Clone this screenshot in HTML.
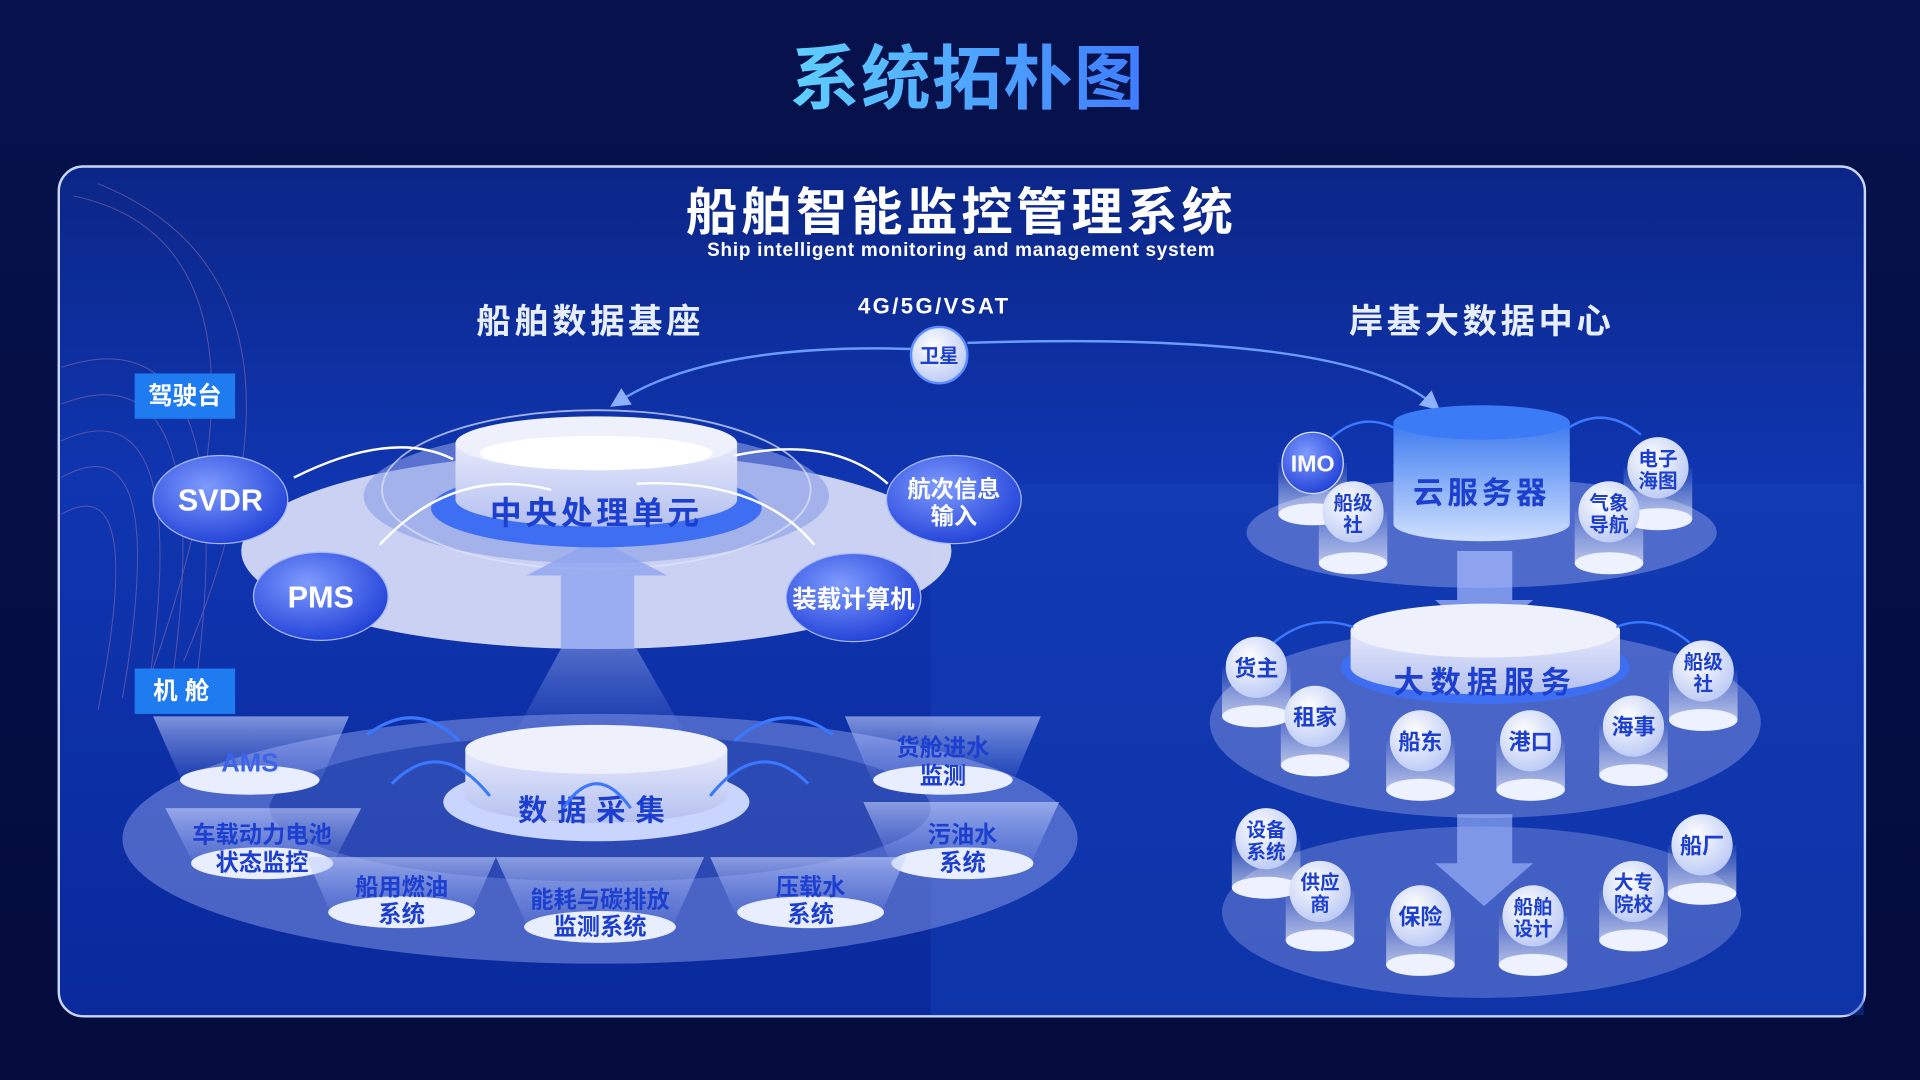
<!DOCTYPE html>
<html><head><meta charset="utf-8"><style>
html,body{margin:0;padding:0;background:#050f45;}
svg{display:block;font-family:"Liberation Sans","Noto Sans CJK SC",sans-serif;font-weight:bold;}
</style></head><body>
<svg width="1920" height="1080" viewBox="0 0 1568 882" xmlns="http://www.w3.org/2000/svg">
<defs>
<linearGradient id="bg" x1="0" y1="0" x2="0" y2="1"><stop offset="0" stop-color="#07124d"/><stop offset="1" stop-color="#040c3c"/></linearGradient>
<linearGradient id="panel" x1="0" y1="0" x2="0" y2="1"><stop offset="0" stop-color="#0b2687"/><stop offset="0.37" stop-color="#0f35b0"/><stop offset="1" stop-color="#0a2a9c"/></linearGradient>
<linearGradient id="ttl" x1="0" y1="0" x2="1" y2="0"><stop offset="0" stop-color="#5fd0ff"/><stop offset="1" stop-color="#3f7cff"/></linearGradient>
<radialGradient id="bn" cx="0.4" cy="0.35" r="0.7"><stop offset="0" stop-color="#7f9bff"/><stop offset="1" stop-color="#1e3fd6"/></radialGradient>
<radialGradient id="ball" cx="0.4" cy="0.35" r="0.7"><stop offset="0" stop-color="#ffffff"/><stop offset="1" stop-color="#b9c8f5"/></radialGradient>
<linearGradient id="pil" x1="0" y1="0" x2="0" y2="1"><stop offset="0" stop-color="#ffffff" stop-opacity="0.05"/><stop offset="1" stop-color="#ffffff" stop-opacity="0.6"/></linearGradient>
<linearGradient id="cyl" x1="0" y1="0" x2="0" y2="1"><stop offset="0" stop-color="#e6e9fb"/><stop offset="1" stop-color="#b4c0f0"/></linearGradient>
<linearGradient id="cylb" x1="0" y1="0" x2="0" y2="1"><stop offset="0" stop-color="#3d7bf0"/><stop offset="1" stop-color="#cfe0ff"/></linearGradient>
<linearGradient id="beam" x1="0" y1="1" x2="0" y2="0"><stop offset="0" stop-color="#9fb4ff" stop-opacity="0.1"/><stop offset="1" stop-color="#c8d4ff" stop-opacity="0.6"/></linearGradient>
<marker id="ar" markerWidth="8" markerHeight="8" refX="4" refY="4" orient="auto"><path d="M0,0 L8,4 L0,8 z" fill="#8fb0ff"/></marker>
</defs>
<rect width="1568" height="882" fill="url(#bg)"/>
<text x="790" y="84" font-size="57" fill="url(#ttl)" text-anchor="middle" letter-spacing="1">系统拓朴图</text>
<rect x="48" y="136" width="1475" height="694" rx="20" fill="url(#panel)" stroke="#c9d6ff" stroke-width="2"/>
<rect x="760" y="395" width="762" height="434" fill="#1440b8" opacity="0.45"/>
<g stroke="#8a6ca8" stroke-width="0.8" fill="none" opacity="0.6">
<path d="M50,300 Q200,250 160,560"/><path d="M50,330 Q180,280 140,560"/><path d="M50,360 Q160,310 120,570"/><path d="M50,390 Q140,340 100,570"/><path d="M50,420 Q120,380 80,580"/><path d="M60,160 Q250,200 120,560"/><path d="M80,150 Q280,230 150,540"/>
</g>
<text x="785" y="188" font-size="42" fill="#fff" text-anchor="middle" letter-spacing="3">船舶智能监控管理系统</text>
<text x="785" y="209" font-size="15.5" fill="#fff" text-anchor="middle" letter-spacing="0.6">Ship intelligent monitoring and management system</text>
<text x="482" y="272" font-size="28" fill="#e6eeff" text-anchor="middle" letter-spacing="3">船舶数据基座</text>
<text x="1210" y="272" font-size="28" fill="#e6eeff" text-anchor="middle" letter-spacing="3">岸基大数据中心</text>
<text x="763" y="256" font-size="18" fill="#fff" text-anchor="middle" letter-spacing="2">4G/5G/VSAT</text>
<path d="M745,285 Q580,280 505,328" stroke="#6b9bff" stroke-width="2" fill="none" marker-end="url(#ar)"/>
<path d="M790,280 Q1100,270 1170,330" stroke="#6b9bff" stroke-width="2" fill="none" marker-end="url(#ar)"/>
<circle cx="767" cy="290" r="23" fill="url(#ball)" stroke="#5b8cff" stroke-width="2"/>
<text x="767" y="296" font-size="16" fill="#1c3fd0" text-anchor="middle">卫星</text>
<rect x="110" y="305" width="82" height="37" fill="#1f7cf0"/><text x="151" y="330" font-size="20" fill="#fff" text-anchor="middle">驾驶台</text>
<rect x="110" y="546" width="82" height="37" fill="#1f7cf0"/><text x="151" y="571" font-size="20" fill="#fff" text-anchor="middle" letter-spacing="6">机舱</text>
<ellipse cx="487" cy="450" rx="290" ry="80" fill="#d6daf5" opacity="0.95"/>
<ellipse cx="487" cy="405" rx="190" ry="55" fill="#8a9de8" opacity="0.6"/>
<ellipse cx="487" cy="400" rx="175" ry="65" fill="none" stroke="#e0e6ff" stroke-width="1.5" opacity="0.7"/>
<path d="M458,530 L458,470 L430,470 L487,440 L545,470 L518,470 L518,530 Z" fill="#8ea4f0" opacity="0.8"/>
<ellipse cx="487" cy="415" rx="135" ry="32" fill="#3e6ff2"/>
<path d="M372,362 L372,408 A115,22 0 0 0 602,408 L602,362 Z" fill="url(#cyl)"/>
<ellipse cx="487" cy="362" rx="115" ry="22" fill="#eef0fc"/>
<ellipse cx="487" cy="370" rx="95" ry="14" fill="#ffffff"/>
<text x="487" y="428" font-size="26" fill="#1c3fd0" text-anchor="middle" letter-spacing="3">中央处理单元</text>
<path d="M240,390 Q320,350 370,375" stroke="#fff" stroke-width="2" fill="none"/>
<path d="M600,372 Q680,355 725,395" stroke="#fff" stroke-width="2" fill="none"/>
<path d="M310,445 Q370,380 450,400" stroke="#fff" stroke-width="2" fill="none"/>
<path d="M520,395 Q620,390 665,445" stroke="#fff" stroke-width="2" fill="none"/>
<g>
<ellipse cx="180" cy="408" rx="55" ry="36" fill="url(#bn)" stroke="#aab9ff"/><text x="180" y="417" font-size="25" fill="#fff" text-anchor="middle">SVDR</text>
<ellipse cx="262" cy="487" rx="55" ry="36" fill="url(#bn)" stroke="#aab9ff"/><text x="262" y="496" font-size="25" fill="#fff" text-anchor="middle">PMS</text>
<ellipse cx="779" cy="408" rx="55" ry="36" fill="url(#bn)" stroke="#aab9ff"/><text x="779" y="406" font-size="19" fill="#fff" text-anchor="middle">航次信息</text><text x="779" y="428" font-size="19" fill="#fff" text-anchor="middle">输入</text>
<ellipse cx="697" cy="488" rx="55" ry="36" fill="url(#bn)" stroke="#aab9ff"/><text x="697" y="496" font-size="20" fill="#fff" text-anchor="middle">装载计算机</text>
</g>
<path d="M458,530 L520,530 L560,600 L420,600 Z" fill="url(#beam)" opacity="0.6"/>
<ellipse cx="490" cy="685" rx="390" ry="102" fill="#7f93e6" opacity="0.55"/>
<ellipse cx="490" cy="660" rx="270" ry="60" fill="#0d2ea0" opacity="0.5"/>
<ellipse cx="487" cy="655" rx="125" ry="32" fill="#c9d4ff"/>
<path d="M380,612 L380,650 A107,22 0 0 0 594,650 L594,612 Z" fill="url(#cyl)"/>
<ellipse cx="487" cy="612" rx="107" ry="20" fill="#eef0fc"/>
<text x="487" y="670" font-size="24" fill="#1c3fd0" text-anchor="middle" letter-spacing="8">数据采集</text>
<g stroke="#3a78ff" stroke-width="2.5" fill="none">
<path d="M300,600 Q340,570 375,605"/><path d="M320,640 Q360,600 400,650"/><path d="M600,605 Q640,570 680,600"/><path d="M580,650 Q620,600 660,640"/><path d="M460,660 Q487,620 515,660"/>
</g>
<g font-size="19" fill="#1c3fd0" text-anchor="middle">
<path d="M125,585 L285,585 L262,637 L148,637 Z" fill="url(#beam)" stroke="none"/><ellipse cx="204" cy="637" rx="57" ry="12" fill="#e8edff"/><text x="204" y="630" font-size="21" fill="#3d63e8">AMS</text>
<path d="M690,585 L850,585 L828,637 L712,637 Z" fill="url(#beam)"/><ellipse cx="770" cy="637" rx="57" ry="12" fill="#e8edff"/><text x="770" y="617">货舱进水</text><text x="770" y="640">监测</text>
<path d="M135,660 L295,660 L272,705 L158,705 Z" fill="url(#beam)"/><ellipse cx="214" cy="705" rx="58" ry="13" fill="#e8edff"/><text x="214" y="688">车载动力电池</text><text x="214" y="711">状态监控</text>
<path d="M705,655 L865,655 L842,705 L728,705 Z" fill="url(#beam)"/><ellipse cx="786" cy="705" rx="58" ry="13" fill="#e8edff"/><text x="786" y="688">污油水</text><text x="786" y="711">系统</text>
<path d="M250,700 L405,700 L385,745 L270,745 Z" fill="url(#beam)"/><ellipse cx="328" cy="745" rx="60" ry="13" fill="#e8edff"/><text x="328" y="731">船用燃油</text><text x="328" y="753">系统</text>
<path d="M405,700 L575,700 L550,755 L430,755 Z" fill="url(#beam)"/><ellipse cx="490" cy="757" rx="62" ry="13" fill="#e8edff"/><text x="490" y="741">能耗与碳排放</text><text x="490" y="763">监测系统</text>
<path d="M580,700 L740,700 L720,745 L600,745 Z" fill="url(#beam)"/><ellipse cx="662" cy="745" rx="60" ry="13" fill="#e8edff"/><text x="662" y="731">压载水</text><text x="662" y="753">系统</text>
</g>
<ellipse cx="1210" cy="435" rx="192" ry="45" fill="#8193e0" opacity="0.55"/>
<ellipse cx="1213" cy="590" rx="225" ry="78" fill="#8193e0" opacity="0.5"/>
<ellipse cx="1210" cy="745" rx="212" ry="70" fill="#8193e0" opacity="0.45"/>
<path d="M1190,450 L1235,450 L1235,490 L1252,490 L1212,525 L1172,490 L1190,490 Z" fill="#a9bcff" opacity="0.7"/>
<path d="M1190,665 L1235,665 L1235,705 L1252,705 L1212,740 L1172,705 L1190,705 Z" fill="#a9bcff" opacity="0.6"/>
<path d="M1138,345 L1138,428 A72,14 0 0 0 1282,428 L1282,345 Z" fill="url(#cylb)"/>
<ellipse cx="1210" cy="345" rx="72" ry="14" fill="#3b7bf5"/>
<text x="1210" y="411" font-size="25" fill="#1c3fd0" text-anchor="middle" letter-spacing="3">云服务器</text>
<ellipse cx="1213" cy="545" rx="118" ry="30" fill="#3e6ff2"/>
<path d="M1103,515 L1103,545 A110,22 0 0 0 1323,545 L1323,515 Z" fill="url(#cyl)"/>
<ellipse cx="1213" cy="515" rx="110" ry="22" fill="#eef0fc"/>
<text x="1213" y="566" font-size="25" fill="#1c3fd0" text-anchor="middle" letter-spacing="5">大数据服务</text>
<g stroke="#3a78ff" stroke-width="2" fill="none"><path d="M1085,360 Q1110,335 1140,350"/><path d="M1280,350 Q1310,330 1340,355"/><path d="M1040,525 Q1070,500 1105,512"/><path d="M1320,512 Q1350,500 1380,525"/></g>
<g font-size="16" fill="#1c3fd0" text-anchor="middle">
<g transform="translate(1072,378)"><rect x="-28" y="0" width="56" height="42" fill="url(#pil)"/><ellipse cy="42" rx="28" ry="9" fill="#eef1ff"/><circle r="25" fill="url(#bn)" stroke="#dde5ff"/><text y="7" font-size="19" fill="#fff">IMO</text></g>
<g transform="translate(1354,382)"><rect x="-28" y="0" width="56" height="42" fill="url(#pil)"/><ellipse cy="42" rx="28" ry="9" fill="#eef1ff"/><circle r="25" fill="url(#ball)"/><text y="-2">电子</text><text y="16">海图</text></g>
<g transform="translate(1105,418)"><rect x="-28" y="0" width="56" height="42" fill="url(#pil)"/><ellipse cy="42" rx="28" ry="9" fill="#eef1ff"/><circle r="25" fill="url(#ball)"/><text y="-2">船级</text><text y="16">社</text></g>
<g transform="translate(1314,418)"><rect x="-28" y="0" width="56" height="42" fill="url(#pil)"/><ellipse cy="42" rx="28" ry="9" fill="#eef1ff"/><circle r="25" fill="url(#ball)"/><text y="-2">气象</text><text y="16">导航</text></g>
<g transform="translate(1026,545)"><rect x="-28" y="0" width="56" height="40" fill="url(#pil)"/><ellipse cy="40" rx="28" ry="9" fill="#eef1ff"/><circle r="25" fill="url(#ball)"/><text y="7" font-size="18">货主</text></g>
<g transform="translate(1391,548)"><rect x="-28" y="0" width="56" height="40" fill="url(#pil)"/><ellipse cy="40" rx="28" ry="9" fill="#eef1ff"/><circle r="25" fill="url(#ball)"/><text y="-2">船级</text><text y="16">社</text></g>
<g transform="translate(1074,585)"><rect x="-28" y="0" width="56" height="40" fill="url(#pil)"/><ellipse cy="40" rx="28" ry="9" fill="#eef1ff"/><circle r="25" fill="url(#ball)"/><text y="7" font-size="18">租家</text></g>
<g transform="translate(1160,605)"><rect x="-28" y="0" width="56" height="40" fill="url(#pil)"/><ellipse cy="40" rx="28" ry="9" fill="#eef1ff"/><circle r="25" fill="url(#ball)"/><text y="7" font-size="18">船东</text></g>
<g transform="translate(1250,605)"><rect x="-28" y="0" width="56" height="40" fill="url(#pil)"/><ellipse cy="40" rx="28" ry="9" fill="#eef1ff"/><circle r="25" fill="url(#ball)"/><text y="7" font-size="18">港口</text></g>
<g transform="translate(1334,593)"><rect x="-28" y="0" width="56" height="40" fill="url(#pil)"/><ellipse cy="40" rx="28" ry="9" fill="#eef1ff"/><circle r="25" fill="url(#ball)"/><text y="7" font-size="18">海事</text></g>
<g transform="translate(1034,685)"><rect x="-28" y="0" width="56" height="40" fill="url(#pil)"/><ellipse cy="40" rx="28" ry="9" fill="#eef1ff"/><circle r="25" fill="url(#ball)"/><text y="-2">设备</text><text y="16">系统</text></g>
<g transform="translate(1390,690)"><rect x="-28" y="0" width="56" height="40" fill="url(#pil)"/><ellipse cy="40" rx="28" ry="9" fill="#eef1ff"/><circle r="25" fill="url(#ball)"/><text y="7" font-size="18">船厂</text></g>
<g transform="translate(1078,728)"><rect x="-28" y="0" width="56" height="40" fill="url(#pil)"/><ellipse cy="40" rx="28" ry="9" fill="#eef1ff"/><circle r="25" fill="url(#ball)"/><text y="-2">供应</text><text y="16">商</text></g>
<g transform="translate(1334,728)"><rect x="-28" y="0" width="56" height="40" fill="url(#pil)"/><ellipse cy="40" rx="28" ry="9" fill="#eef1ff"/><circle r="25" fill="url(#ball)"/><text y="-2">大专</text><text y="16">院校</text></g>
<g transform="translate(1160,748)"><rect x="-28" y="0" width="56" height="40" fill="url(#pil)"/><ellipse cy="40" rx="28" ry="9" fill="#eef1ff"/><circle r="25" fill="url(#ball)"/><text y="7" font-size="18">保险</text></g>
<g transform="translate(1252,748)"><rect x="-28" y="0" width="56" height="40" fill="url(#pil)"/><ellipse cy="40" rx="28" ry="9" fill="#eef1ff"/><circle r="25" fill="url(#ball)"/><text y="-2">船舶</text><text y="16">设计</text></g>
</g>
</svg>
</body></html>
